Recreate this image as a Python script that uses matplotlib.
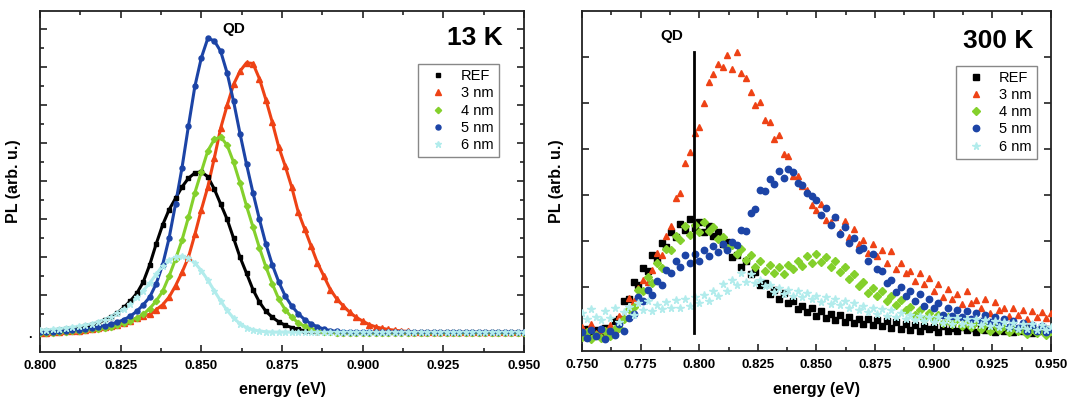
import numpy as np
import matplotlib
matplotlib.use('Agg')
import matplotlib.pyplot as plt
from matplotlib.ticker import MultipleLocator

plt.rcParams['font.family'] = ['Liberation Sans', 'DejaVu Sans']

# ---- 13 K spectra (arb. u.), energy grid 0.800 ... 0.950 eV, step 0.002 ----
energy_13K = np.round(np.arange(0.800, 0.9501, 0.002), 3)

ref_13K = [0.05, 0.06, 0.07, 0.08, 0.10, 0.12, 0.15, 0.18, 0.22, 0.28,
           0.35, 0.43, 0.54, 0.68, 0.85, 1.05, 1.35, 1.80, 2.35, 2.85,
           3.25, 3.55, 3.85, 4.08, 4.22, 4.25, 4.12, 3.80, 3.40, 3.00,
           2.50, 2.00, 1.58, 1.15, 0.82, 0.58, 0.42, 0.30, 0.21, 0.15,
           0.10, 0.07, 0.05, 0.04, 0.03, 0.03, 0.02, 0.02, 0.02, 0.02,
           0.02, 0.02, 0.02, 0.02, 0.02, 0.02, 0.02, 0.02, 0.02, 0.02,
           0.02, 0.02, 0.02, 0.02, 0.02, 0.02, 0.02, 0.02, 0.02, 0.02,
           0.02, 0.02, 0.02, 0.02, 0.02, 0.02]
nm3_13K = [0.02, 0.02, 0.03, 0.04, 0.05, 0.06, 0.07, 0.09, 0.11, 0.13,
           0.16, 0.19, 0.23, 0.28, 0.33, 0.40, 0.45, 0.50, 0.62, 0.75,
           0.95, 1.25, 1.60, 2.00, 2.60, 3.25, 3.85, 4.60, 5.40, 6.00,
           6.55, 6.90, 7.12, 7.10, 6.70, 6.15, 5.55, 4.90, 4.40, 3.85,
           3.20, 2.75, 2.30, 1.85, 1.50, 1.15, 0.90, 0.72, 0.55, 0.42,
           0.32, 0.23, 0.17, 0.13, 0.10, 0.08, 0.06, 0.05, 0.04, 0.03,
           0.03, 0.03, 0.03, 0.03, 0.03, 0.03, 0.03, 0.03, 0.03, 0.03,
           0.03, 0.03, 0.03, 0.03, 0.03, 0.03]
nm4_13K = [0.01, 0.02, 0.02, 0.03, 0.04, 0.05, 0.06, 0.08, 0.10, 0.12,
           0.14, 0.17, 0.21, 0.26, 0.32, 0.40, 0.50, 0.65, 0.85, 1.10,
           1.50, 1.95, 2.45, 3.05, 3.70, 4.25, 4.80, 5.10, 5.17, 4.95,
           4.50, 3.95, 3.35, 2.80, 2.25, 1.75, 1.30, 0.90, 0.62, 0.42,
           0.28, 0.18, 0.11, 0.07, 0.04, 0.03, 0.02, 0.02, 0.02, 0.02,
           0.02, 0.02, 0.02, 0.02, 0.02, 0.02, 0.02, 0.02, 0.02, 0.02,
           0.02, 0.02, 0.02, 0.02, 0.02, 0.02, 0.02, 0.02, 0.02, 0.02,
           0.02, 0.02, 0.02, 0.02, 0.02, 0.02]
nm5_13K = [0.03, 0.03, 0.04, 0.05, 0.06, 0.08, 0.09, 0.11, 0.14, 0.17,
           0.20, 0.24, 0.29, 0.36, 0.45, 0.58, 0.75, 0.95, 1.30, 1.80,
           2.50, 3.40, 4.35, 5.45, 6.50, 7.25, 7.76, 7.70, 7.42, 6.85,
           6.10, 5.25, 4.45, 3.70, 3.00, 2.35, 1.80, 1.35, 0.98, 0.72,
           0.52, 0.36, 0.25, 0.17, 0.11, 0.07, 0.05, 0.04, 0.03, 0.03,
           0.03, 0.03, 0.03, 0.03, 0.03, 0.03, 0.03, 0.03, 0.03, 0.03,
           0.03, 0.03, 0.03, 0.03, 0.03, 0.03, 0.03, 0.03, 0.03, 0.03,
           0.03, 0.03, 0.03, 0.03, 0.03, 0.03]
nm6_13K = [0.08, 0.09, 0.10, 0.12, 0.14, 0.16, 0.18, 0.21, 0.25, 0.30,
           0.36, 0.44, 0.54, 0.65, 0.78, 0.95, 1.12, 1.32, 1.55, 1.78,
           1.92, 2.00, 2.03, 1.98, 1.85, 1.65, 1.40, 1.12, 0.85, 0.60,
           0.40, 0.25, 0.15, 0.09, 0.06, 0.04, 0.03, 0.03, 0.03, 0.03,
           0.03, 0.03, 0.03, 0.03, 0.03, 0.03, 0.03, 0.03, 0.03, 0.03,
           0.03, 0.03, 0.03, 0.03, 0.03, 0.03, 0.03, 0.03, 0.03, 0.03,
           0.03, 0.03, 0.03, 0.03, 0.03, 0.03, 0.03, 0.03, 0.03, 0.03,
           0.03, 0.03, 0.03, 0.03, 0.03, 0.03]

# ---- 300 K spectra (arb. u.), energy grid 0.750 ... 0.950 eV, step 0.002 ----
energy_300K = np.round(np.arange(0.750, 0.9501, 0.002), 3)

ref_300K = [0.02, 0.10, -0.04, 0.08, 0.01, 0.12, 0.04, 0.26, 0.30, 0.71,
            0.74, 1.12, 1.05, 1.41, 1.36, 1.70, 1.61, 1.97, 1.88, 2.20,
            2.10, 2.38, 2.25, 2.49, 2.28, 2.41, 2.19, 2.33, 2.12, 2.20,
            1.95, 1.98, 1.66, 1.70, 1.45, 1.56, 1.29, 1.33, 1.05, 1.10,
            0.86, 0.95, 0.74, 0.88, 0.66, 0.70, 0.52, 0.60, 0.46, 0.55,
            0.38, 0.49, 0.33, 0.43, 0.29, 0.40, 0.25, 0.36, 0.22, 0.31,
            0.20, 0.30, 0.17, 0.28, 0.15, 0.26, 0.12, 0.24, 0.10, 0.20,
            0.07, 0.18, 0.05, 0.16, 0.09, 0.13, 0.03, 0.15, 0.06, 0.12,
            0.04, 0.14, 0.07, 0.11, 0.02, 0.13, 0.08, 0.10, 0.03, 0.12,
            0.05, 0.11, 0.02, 0.09, 0.06, 0.12, 0.01, 0.08, 0.05, 0.10, 0.06]
nm3_300K = [0.13, -0.07, 0.20, 0.00, 0.08, -0.06, 0.18, 0.07, 0.38, 0.43,
            0.76, 0.70, 0.99, 1.16, 1.11, 1.37, 1.74, 1.69, 2.12, 2.34,
            2.94, 3.04, 3.70, 3.93, 4.35, 4.49, 5.01, 5.45, 5.63, 5.85,
            5.79, 6.05, 5.74, 6.10, 5.65, 5.55, 5.25, 4.96, 5.03, 4.64,
            4.58, 4.23, 4.30, 3.89, 3.84, 3.42, 3.41, 3.20, 3.12, 2.79,
            2.68, 2.80, 2.46, 2.41, 2.52, 2.19, 2.44, 2.09, 2.26, 1.94,
            2.03, 1.75, 1.95, 1.68, 1.81, 1.53, 1.78, 1.40, 1.52, 1.30,
            1.36, 1.13, 1.32, 1.07, 1.20, 0.92, 1.08, 0.79, 0.96, 0.75,
            0.86, 0.64, 0.92, 0.65, 0.72, 0.55, 0.74, 0.45, 0.67, 0.50,
            0.56, 0.37, 0.54, 0.40, 0.51, 0.30, 0.49, 0.36, 0.47, 0.33, 0.45]
nm4_300K = [-0.08, 0.02, -0.12, -0.03, -0.10, 0.04, -0.06, 0.10, 0.12, 0.32,
            0.52, 0.58, 0.95, 0.92, 1.22, 1.10, 1.52, 1.42, 1.83, 1.82,
            2.12, 2.02, 2.32, 2.14, 2.36, 2.20, 2.41, 2.23, 2.30, 2.05,
            2.10, 1.85, 1.92, 1.72, 1.83, 1.60, 1.70, 1.45, 1.56, 1.35,
            1.48, 1.30, 1.45, 1.28, 1.49, 1.40, 1.58, 1.46, 1.68, 1.52,
            1.73, 1.55, 1.66, 1.45, 1.56, 1.33, 1.44, 1.18, 1.28, 1.03,
            1.12, 0.88, 0.98, 0.80, 0.92, 0.70, 0.82, 0.62, 0.72, 0.50,
            0.58, 0.40, 0.50, 0.32, 0.44, 0.28, 0.39, 0.22, 0.35, 0.20,
            0.30, 0.16, 0.28, 0.14, 0.24, 0.10, 0.21, 0.06, 0.18, 0.08,
            0.16, 0.02, 0.13, 0.04, 0.08, -0.02, 0.10, 0.00, 0.07, -0.04, 0.05]
nm5_300K = [0.02, -0.10, 0.08, -0.06, 0.10, -0.12, 0.05, -0.04, 0.20, 0.04,
            0.33, 0.41, 0.78, 0.70, 0.95, 0.84, 1.13, 1.05, 1.38, 1.30,
            1.58, 1.45, 1.70, 1.52, 1.72, 1.58, 1.80, 1.68, 1.90, 1.76,
            1.95, 1.80, 1.99, 1.92, 2.25, 2.22, 2.62, 2.70, 3.12, 3.08,
            3.35, 3.24, 3.52, 3.38, 3.56, 3.50, 3.27, 3.22, 3.05, 2.99,
            2.90, 2.58, 2.72, 2.36, 2.52, 2.15, 2.31, 1.96, 2.06, 1.80,
            1.85, 1.56, 1.72, 1.40, 1.35, 1.10, 1.16, 0.90, 1.00, 0.80,
            0.92, 0.70, 0.85, 0.60, 0.74, 0.55, 0.66, 0.40, 0.55, 0.38,
            0.50, 0.36, 0.48, 0.32, 0.44, 0.26, 0.40, 0.24, 0.35, 0.18,
            0.30, 0.14, 0.27, 0.12, 0.22, 0.06, 0.19, 0.04, 0.15, 0.02, 0.10]
nm6_300K = [0.45, 0.30, 0.52, 0.36, 0.28, 0.48, 0.33, 0.55, 0.25, 0.47,
            0.58, 0.40, 0.66, 0.50, 0.70, 0.48, 0.62, 0.52, 0.68, 0.55,
            0.72, 0.56, 0.74, 0.60, 0.78, 0.66, 0.84, 0.70, 0.92, 0.80,
            1.08, 0.92, 1.15, 1.05, 1.30, 1.12, 1.28, 1.10, 1.16, 1.02,
            1.05, 0.90, 0.98, 0.86, 0.95, 0.82, 0.92, 0.78, 0.88, 0.74,
            0.82, 0.68, 0.78, 0.64, 0.74, 0.62, 0.70, 0.56, 0.66, 0.50,
            0.60, 0.46, 0.56, 0.42, 0.52, 0.38, 0.50, 0.36, 0.44, 0.32,
            0.40, 0.28, 0.38, 0.26, 0.36, 0.24, 0.35, 0.22, 0.34, 0.20,
            0.33, 0.21, 0.31, 0.18, 0.30, 0.17, 0.28, 0.15, 0.26, 0.14,
            0.24, 0.12, 0.22, 0.10, 0.21, 0.09, 0.20, 0.08, 0.18, 0.07, 0.14]

labels = ['REF', '3 nm', '4 nm', '5 nm', '6 nm']
colors = ['#000000', '#ee4215', '#84d02c', '#1c44a6', '#b2ecec']
markers = ['s', '^', 'D', 'o', '*']
qd_300K = 0.7976   # QD line position (eV)
qd_top = 6.1

fig = plt.figure(figsize=(10.69, 4.01), dpi=100)
ax1 = fig.add_axes([0.0374, 0.1234, 0.4528, 0.849])
ax2 = fig.add_axes([0.5444, 0.1246, 0.4387, 0.848])

# left panel: 13 K
sizes1 = [3.4, 4.0, 3.2, 3.6, 4.6]
for y, lab, c, m, s in zip([ref_13K, nm3_13K, nm4_13K, nm5_13K, nm6_13K],
                           labels, colors, markers, sizes1):
    ax1.plot(energy_13K, y, color=c, lw=2.2, zorder=2)
    ax1.plot(energy_13K, y, ls='none', marker=m, ms=s, color=c, mec=c,
             label=lab, zorder=3)

# right panel: 300 K
sizes2 = [4.0, 5.0, 4.0, 4.6, 5.6]
for y, lab, c, m, s in zip([ref_300K, nm3_300K, nm4_300K, nm5_300K, nm6_300K],
                           labels, colors, markers, sizes2):
    ax2.plot(energy_300K, y, ls='none', marker=m, ms=s, color=c, mec=c,
             label=lab, zorder=3)
ax2.plot([qd_300K, qd_300K], [0, qd_top], color='black', lw=2, zorder=4)

for ax in (ax1, ax2):
    for sp in ax.spines.values():
        sp.set_linewidth(1.3)
        sp.set_color('#222222')
    ax.xaxis.set_major_locator(MultipleLocator(0.025))
    ax.xaxis.set_minor_locator(MultipleLocator(0.0125))
    ax.tick_params(which='both', direction='in', top=True, right=True,
                   color='#222222', width=1.2)
    ax.tick_params(which='major', length=5)
    ax.tick_params(which='minor', length=3)
    ax.tick_params(axis='x', labelsize=9.5, pad=6)
    ax.set_xlabel('energy (eV)', fontsize=11.5, fontweight='bold')
    ax.set_ylabel('PL (arb. u.)', fontsize=11.5, fontweight='bold')
    ax.xaxis.set_label_coords(0.5, -0.09)
    leg = ax.legend(loc='upper right', fontsize=10.5, frameon=True,
                    fancybox=False, framealpha=1, edgecolor='#888888',
                    handlelength=2.0, handletextpad=0.6, borderpad=0.35,
                    labelspacing=0.22, borderaxespad=0)
    leg.get_frame().set_linewidth(1.0)

ax1.set_xlim(0.800, 0.950)
ax1.set_ylim(-0.48, 8.48)
ax1.set_xticks(np.arange(0.800, 0.9501, 0.025))
ax1.set_xticklabels(['%.3f' % v for v in np.arange(0.800, 0.9501, 0.025)],
                    fontweight='bold')
ax1.set_yticks(range(9))
ax1.set_yticklabels(['.'] + [''] * 8, fontsize=9, fontweight='bold')
ax1.yaxis.set_minor_locator(MultipleLocator(0.5))
ax1.tick_params(axis='y', pad=6)
ax1.yaxis.set_label_coords(-0.040, 0.5)
ax1.get_legend().set_bbox_to_anchor((0.948, 0.844))
ax1.text(0.860, 8.0, 'QD', fontsize=11, fontweight='bold', ha='center', va='center')
ax1.text(0.957, 0.921, '13 K', transform=ax1.transAxes, fontsize=19,
         fontweight='bold', ha='right', va='center')

ax2.set_xlim(0.750, 0.950)
ax2.set_ylim(-0.385, 7.0)
ax2.set_xticks(np.arange(0.750, 0.9501, 0.025))
ax2.set_xticklabels(['%.3f' % v for v in np.arange(0.750, 0.9501, 0.025)],
                    fontweight='bold')
ax2.set_yticks(range(7))
ax2.set_yticklabels([])
ax2.yaxis.set_label_coords(-0.039, 0.5)
ax2.get_legend().set_bbox_to_anchor((0.970, 0.839))
ax2.text(0.7883, 6.45, 'QD', fontsize=11, fontweight='bold', ha='center', va='center')
ax2.text(0.962, 0.912, '300 K', transform=ax2.transAxes, fontsize=19,
         fontweight='bold', ha='right', va='center')

fig.savefig('out.png', dpi=100)
